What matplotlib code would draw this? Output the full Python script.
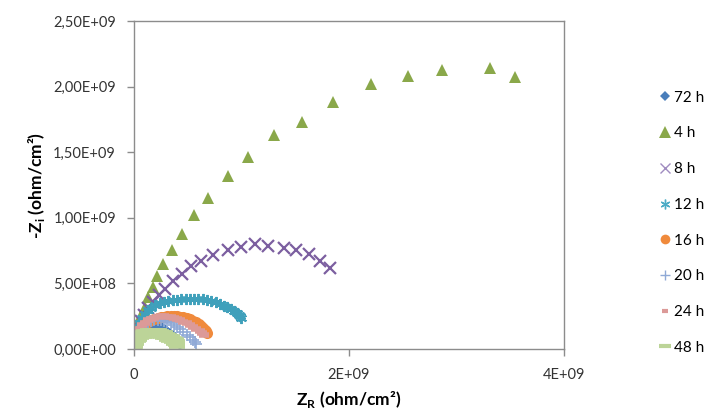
import matplotlib
matplotlib.use("Agg")
import matplotlib.pyplot as plt
from matplotlib.lines import Line2D
from matplotlib.ticker import FuncFormatter

plt.rcParams['font.family'] = ['Lato', 'DejaVu Sans']
plt.rcParams['mathtext.fontset'] = 'custom'
plt.rcParams['mathtext.rm'] = 'Lato'
plt.rcParams['mathtext.bf'] = 'Lato:bold'

# values in units of 1E+09 ohm/cm2
zr_72h = [0.005, 0.01, 0.02, 0.035, 0.05, 0.07, 0.09, 0.11, 0.135, 0.16, 0.185, 0.21,
          0.235, 0.26, 0.285, 0.31, 0.335, 0.36, 0.38, 0.40, 0.415, 0.425, 0.43]
zi_72h = [0.02, 0.05, 0.08, 0.11, 0.13, 0.15, 0.165, 0.175, 0.18, 0.183, 0.183, 0.18,
          0.175, 0.167, 0.155, 0.14, 0.125, 0.107, 0.09, 0.073, 0.058, 0.045, 0.03]

zr_4h = [0.01, 0.025, 0.056, 0.10, 0.13, 0.174, 0.216, 0.272, 0.350, 0.443, 0.557,
         0.690, 0.879, 1.064, 1.299, 1.566, 1.856, 2.209, 2.552, 2.868, 3.313, 3.545]
zi_4h = [0.10, 0.182, 0.246, 0.322, 0.395, 0.469, 0.555, 0.651, 0.758, 0.879, 1.018,
         1.153, 1.315, 1.467, 1.631, 1.733, 1.884, 2.021, 2.082, 2.128, 2.143, 2.074]

zr_8h = [0.01, 0.025, 0.045, 0.07, 0.096, 0.13, 0.179, 0.235, 0.288, 0.365, 0.443,
         0.526, 0.628, 0.736, 0.875, 0.999, 1.123, 1.250, 1.395, 1.503, 1.627, 1.735, 1.819]
zi_8h = [0.06, 0.11, 0.16, 0.21, 0.26, 0.31, 0.359, 0.410, 0.461, 0.518, 0.574,
         0.630, 0.671, 0.719, 0.758, 0.778, 0.798, 0.783, 0.773, 0.758, 0.722, 0.669, 0.621]

zr_12h = [0.005, 0.015, 0.03, 0.05, 0.075, 0.10, 0.13, 0.16, 0.20, 0.24, 0.28, 0.32,
          0.36, 0.40, 0.44, 0.48, 0.52, 0.56, 0.60, 0.64, 0.68, 0.72, 0.76, 0.80,
          0.84, 0.87, 0.90, 0.93, 0.955, 0.975, 0.99, 1.0]
zi_12h = [0.06, 0.11, 0.16, 0.20, 0.24, 0.27, 0.295, 0.315, 0.333, 0.347, 0.357, 0.365,
          0.371, 0.376, 0.379, 0.381, 0.382, 0.382, 0.381, 0.378, 0.373, 0.366, 0.357, 0.345,
          0.331, 0.318, 0.303, 0.288, 0.273, 0.26, 0.25, 0.24]

zr_16h = [0.005, 0.015, 0.03, 0.05, 0.075, 0.10, 0.13, 0.16, 0.19, 0.22, 0.25, 0.28,
          0.31, 0.34, 0.37, 0.40, 0.43, 0.46, 0.49, 0.52, 0.55, 0.58, 0.605, 0.625,
          0.645, 0.66, 0.672, 0.68]
zi_16h = [0.045, 0.08, 0.115, 0.145, 0.17, 0.19, 0.205, 0.218, 0.228, 0.236, 0.242, 0.246,
          0.249, 0.25, 0.25, 0.249, 0.246, 0.241, 0.234, 0.226, 0.216, 0.205, 0.192, 0.178,
          0.163, 0.148, 0.134, 0.12]

zr_20h = [0.005, 0.015, 0.03, 0.05, 0.075, 0.10, 0.13, 0.16, 0.19, 0.22, 0.25, 0.28,
          0.31, 0.34, 0.37, 0.40, 0.43, 0.46, 0.49, 0.52, 0.545, 0.565, 0.58]
zi_20h = [0.03, 0.07, 0.11, 0.14, 0.17, 0.19, 0.205, 0.215, 0.22, 0.222, 0.22, 0.215,
          0.205, 0.195, 0.18, 0.165, 0.15, 0.13, 0.11, 0.09, 0.07, 0.055, 0.04]

zr_24h = [0.005, 0.015, 0.03, 0.05, 0.075, 0.10, 0.13, 0.16, 0.19, 0.22, 0.25, 0.28,
          0.31, 0.34, 0.37, 0.40, 0.43, 0.46, 0.49, 0.52, 0.55, 0.58, 0.61, 0.635, 0.655]
zi_24h = [0.04, 0.08, 0.12, 0.15, 0.18, 0.20, 0.22, 0.232, 0.24, 0.245, 0.248, 0.248,
          0.246, 0.242, 0.236, 0.228, 0.218, 0.207, 0.195, 0.182, 0.168, 0.152, 0.137, 0.122, 0.11]

zr_48h = [0.0, 0.005, 0.01, 0.02, 0.035, 0.05, 0.07, 0.09, 0.11, 0.13, 0.15, 0.17,
          0.19, 0.21, 0.23, 0.25, 0.27, 0.29, 0.31, 0.33, 0.35, 0.37, 0.39, 0.405]
zi_48h = [0.005, 0.02, 0.04, 0.06, 0.08, 0.095, 0.105, 0.112, 0.117, 0.12, 0.122, 0.123,
          0.123, 0.122, 0.12, 0.116, 0.11, 0.103, 0.095, 0.085, 0.074, 0.062, 0.05, 0.04]

labels = ['72 h', '4 h', '8 h', '12 h', '16 h', '20 h', '24 h', '48 h']
y_ticks = [0.0, 0.5, 1.0, 1.5, 2.0, 2.5]
x_ticks = [0, 2, 4]

series = [
    (zr_72h, zi_72h, dict(marker='D', color='#4a7ebb', ms=5, mew=0)),
    (zr_4h, zi_4h, dict(marker='^', color='#8aa84a', ms=9, mew=0)),
    (zr_8h, zi_8h, dict(marker='x', color='#7c5fa0', ms=8, mew=1.6)),
    (zr_12h, zi_12h, dict(marker=(6, 2, 0), color='#3fa0bb', ms=8, mew=1.4)),
    (zr_16h, zi_16h, dict(marker='o', color='#f08a3c', ms=8, mew=0)),
    (zr_20h, zi_20h, dict(marker='+', color='#8fa9d6', ms=8, mew=1.2)),
    (zr_24h, zi_24h, dict(marker='_', color='#dc9a98', ms=7, mew=4)),
    (zr_48h, zi_48h, dict(marker='_', color='#bcd498', ms=12, mew=7)),
]

# smaller symbols for the legend, as in the source chart
legend_styles = [
    dict(marker='D', color='#4a7ebb', ms=5, mew=0),
    dict(marker='^', color='#8aa84a', ms=8, mew=0),
    dict(marker='x', color='#a08cc0', ms=7, mew=1.0),
    dict(marker=(6, 2, 0), color='#4bacc6', ms=7, mew=1.0),
    dict(marker='o', color='#f08a3c', ms=7, mew=0),
    dict(marker='+', color='#8fa9d6', ms=7, mew=1.0),
    dict(marker='_', color='#dc9a98', ms=5, mew=3),
    dict(marker='_', color='#bcd498', ms=9, mew=3),
]

fig = plt.figure(figsize=(7.05, 4.13), dpi=100)
ax = fig.add_axes([0.190, 0.155, 0.610, 0.794])

for xs, ys, style in series:
    ax.plot([v * 1e9 for v in xs], [v * 1e9 for v in ys], linestyle='none', **style)

ax.set_xlim(0, 4e9)
ax.set_ylim(0, 2.5e9)
ax.set_xticks([v * 1e9 for v in x_ticks])
ax.set_yticks([v * 1e9 for v in y_ticks])


def fmt_y(v, pos):
    return f"{v:.2E}".replace('.', ',')


def fmt_x(v, pos):
    if v == 0:
        return '0'
    return f"{v:.0E}"


ax.yaxis.set_major_formatter(FuncFormatter(fmt_y))
ax.xaxis.set_major_formatter(FuncFormatter(fmt_x))

for sp in ax.spines.values():
    sp.set_color('#8c8c8c')
    sp.set_linewidth(1.0)
ax.tick_params(axis='both', direction='out', length=5, width=1, color='#8c8c8c',
               labelsize=10.5, labelcolor='#333333')
ax.tick_params(axis='x', pad=9)
ax.tick_params(axis='y', pad=8)

ax.set_xlabel('Z$_\\mathbf{R}$ (ohm/cm²)', fontsize=12.5, fontweight='bold', labelpad=5)
ax.set_ylabel('-Z$_\\mathregular{i}$ (ohm/cm²)', fontsize=12.5, fontweight='bold', labelpad=4)

handles = [Line2D([], [], linestyle='none', **st) for st in legend_styles]
fig.legend(handles, labels, loc='upper left', bbox_to_anchor=(0.927, 0.795), frameon=False,
           fontsize=11, handlelength=0.7, handletextpad=0.25, labelspacing=1.42,
           borderaxespad=0)

fig.savefig('out.png', dpi=100)
